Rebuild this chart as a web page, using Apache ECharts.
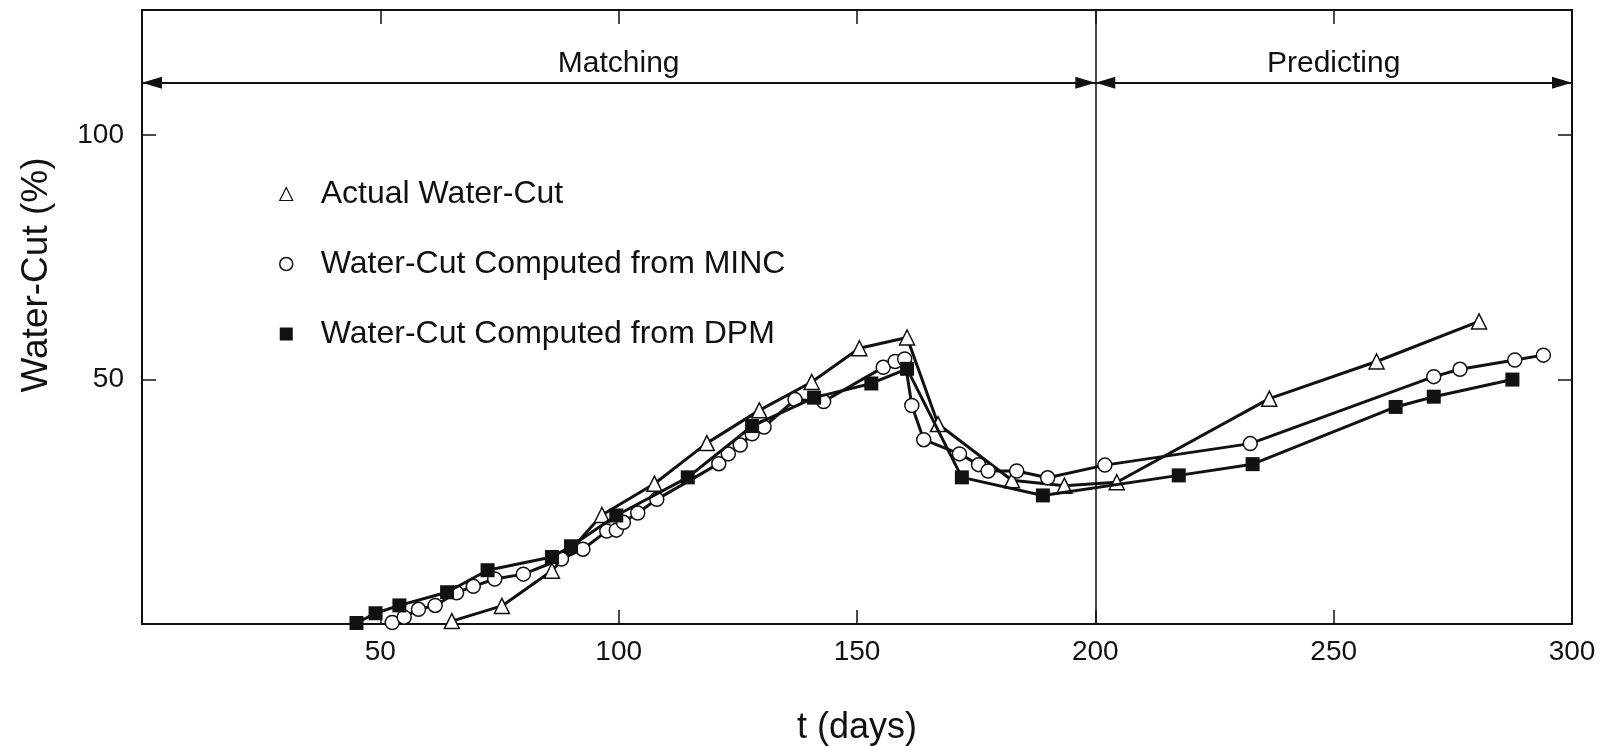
<!DOCTYPE html>
<html>
<head>
<meta charset="utf-8">
<title>Water-Cut</title>
<script src="https://cdn.jsdelivr.net/npm/echarts@6/dist/echarts.min.js"></script>
<style>
  html, body { margin: 0; padding: 0; background: #fff; }
  #chart { width: 1600px; height: 746px; }
</style>
</head>
<body>
<div id="chart"></div>
<script>
// 实测含水率
const actualX = [65, 75.5, 86, 96.5, 107.5, 118.5, 129.5, 140.5, 150.5, 160.5, 167, 182.5, 193.5, 204.5, 236.5, 259, 280.5];
const actualY = [0.6, 3.7, 10.9, 22.3, 28.7, 37, 43.7, 49.5, 56.4, 58.6, 40.9, 29.4, 28.3, 29, 46.1, 53.7, 61.9];

// MINC 计算值
const mincX = [52.5, 55, 58, 61.5, 66, 69.5, 74, 80, 88, 92.5, 97.5, 99.5, 101, 104, 108, 121, 123, 125.5, 128, 130.5,
  137, 143, 155.5, 158, 160, 161.5, 164, 171.5, 175.5, 177.5, 183.5, 190, 202, 232.5, 271, 276.5, 288, 294];
const mincY = [0.3, 1.4, 3, 3.8, 6.4, 7.7, 9.2, 10.2, 13.3, 15.3, 19, 19.2, 20.8, 22.7, 25.5, 32.8, 34.8, 36.6, 38.9, 40.3,
  45.9, 45.5, 52.5, 53.7, 54.2, 44.7, 37.7, 34.8, 32.6, 31.3, 31.3, 29.9, 32.5, 36.9, 50.6, 52.1, 54, 55];

// DPM 计算值
const dpmX = [45, 49, 54, 64, 72.5, 86, 90, 99.5, 114.5, 128, 141, 153, 160.5, 172, 189, 217.5, 233, 263, 271, 287.5];
const dpmY = [0.2, 2.2, 3.8, 6.5, 11, 13.7, 15.9, 22.2, 30, 40.5, 46.3, 49.2, 52.2, 30, 26.3, 30.4, 32.7, 44.4, 46.5, 50];

const seriesNames = ["Actual Water-Cut", "Water-Cut Computed from MINC", "Water-Cut Computed from DPM"];
const xTickLabels = [50, 100, 150, 200, 250, 300];
const yTickLabels = [50, 100];

// 阶段划分
const phaseNames = ["Matching", "Predicting"];
const phaseBounds = [0, 200, 300];
const phaseArrowY = 110.7;

const FONT = "'Liberation Sans', Arial, Helvetica, sans-serif";
const INK = "#111";

const zip = (xs, ys) => xs.map((x, i) => [x, ys[i]]);

const axisCommon = {
  axisLine: { show: true, onZero: false, lineStyle: { color: INK, width: 2 } },
  axisTick: { show: true, inside: true, length: 14, lineStyle: { color: INK, width: 1.5 } },
  splitLine: { show: false },
};

const arrowLine = (i) => [
  { coord: [phaseBounds[i], phaseArrowY], name: phaseNames[i] },
  { coord: [phaseBounds[i + 1], phaseArrowY] },
];

const option = {
  backgroundColor: "#fff",
  animation: false,
  textStyle: { fontFamily: FONT, color: INK },
  grid: { left: 142, right: 28, top: 10, bottom: 122, outerBoundsMode: "none" },
  legend: {
    orient: "vertical",
    left: 274,
    top: 173,
    itemGap: 38,
    itemWidth: 13,
    itemHeight: 13,
    selectedMode: false,
    textStyle: { fontSize: 32, fontFamily: FONT, color: INK, padding: [0, 0, 0, 23] },
    data: [
      { name: seriesNames[0], icon: "triangle", itemStyle: { color: "#fff", borderColor: INK, borderWidth: 1.2 } },
      { name: seriesNames[1], icon: "circle", itemStyle: { color: "#fff", borderColor: INK, borderWidth: 1.5 } },
      { name: seriesNames[2], icon: "rect", itemStyle: { color: INK, borderWidth: 0 } },
    ],
  },
  xAxis: [
    {
      ...axisCommon,
      type: "value",
      position: "bottom",
      min: 0,
      max: 300,
      interval: 50,
      name: "t (days)",
      nameLocation: "middle",
      nameGap: 86,
      nameTextStyle: { fontSize: 36, fontFamily: FONT, color: INK },
      axisLabel: {
        margin: 14,
        fontSize: 28,
        fontFamily: FONT,
        color: INK,
        formatter: (v) => (xTickLabels.includes(v) ? String(v) : ""),
      },
    },
    {
      ...axisCommon,
      type: "value",
      position: "top",
      min: 0,
      max: 300,
      interval: 50,
      axisLabel: { show: false },
    },
  ],
  yAxis: [
    {
      ...axisCommon,
      type: "value",
      position: "left",
      min: 0,
      max: 125.6,
      interval: 50,
      name: "Water-Cut (%)",
      nameLocation: "middle",
      nameGap: 87,
      nameTextStyle: { fontSize: 37, fontFamily: FONT, color: INK, padding: [0, 0, 0, 84] },
      axisLabel: {
        margin: 18,
        fontSize: 28,
        fontFamily: FONT,
        color: INK,
        formatter: (v) => (yTickLabels.includes(v) ? String(v) : ""),
      },
    },
    {
      ...axisCommon,
      type: "value",
      position: "right",
      min: 0,
      max: 125.6,
      interval: 50,
      axisLabel: { show: false },
    },
  ],
  series: [
    {
      name: seriesNames[0],
      type: "line",
      data: zip(actualX, actualY),
      symbol: "triangle",
      symbolSize: 15,
      z: 3,
      lineStyle: { color: INK, width: 3 },
      itemStyle: { color: "#fff", borderColor: INK, borderWidth: 1.5 },
    },
    {
      name: seriesNames[1],
      type: "line",
      data: zip(mincX, mincY),
      symbol: "circle",
      symbolSize: 14,
      z: 4,
      lineStyle: { color: INK, width: 3 },
      itemStyle: { color: "#fff", borderColor: INK, borderWidth: 1.5 },
      // 匹配期 / 预测期分界线
      markLine: {
        silent: true,
        animation: false,
        symbol: "none",
        label: { show: false },
        lineStyle: { color: INK, width: 1.5, type: "solid" },
        data: [{ xAxis: phaseBounds[1] }],
      },
    },
    {
      name: seriesNames[2],
      type: "line",
      data: zip(dpmX, dpmY),
      symbol: "rect",
      symbolSize: 14,
      z: 5,
      lineStyle: { color: INK, width: 3 },
      itemStyle: { color: INK },
      // 双向箭头 + 阶段标注
      markLine: {
        silent: true,
        animation: false,
        symbol: ["triangle", "triangle"],
        symbolSize: [12, 20],
        symbolOffset: [[0, 10], [0, 10]],
        lineStyle: { color: INK, width: 2, type: "solid" },
        label: {
          show: true,
          position: "insideMiddleTop",
          distance: 4,
          formatter: "{b}",
          fontSize: 30,
          fontFamily: FONT,
          color: INK,
        },
        data: [arrowLine(0), arrowLine(1)],
      },
    },
  ],
};

const chart = echarts.init(document.getElementById("chart"));
chart.setOption(option);
window.addEventListener("resize", () => chart.resize());
</script>
</body>
</html>
